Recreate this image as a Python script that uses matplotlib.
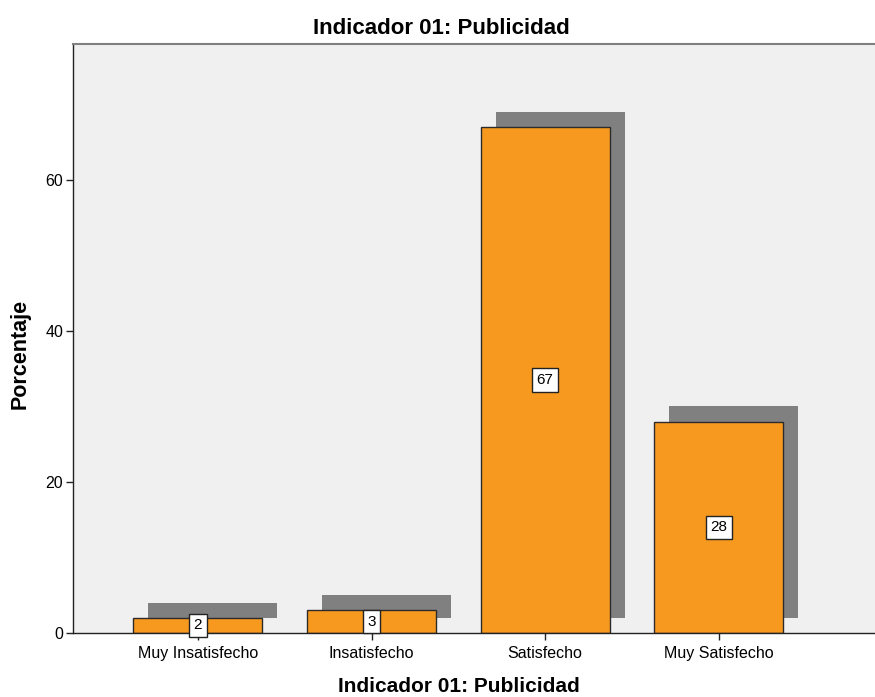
import matplotlib

matplotlib.use("Agg")
import matplotlib.pyplot as plt
import numpy as np

plt.rcParams["font.family"] = ["Liberation Sans", "DejaVu Sans"]

categories = ["Muy Insatisfecho", "Insatisfecho", "Satisfecho", "Muy Satisfecho"]
percentages = [2, 3, 67, 28]
y_ticks = [0, 20, 40, 60]

BAR_COLOR = "#F7991F"
SHADOW_COLOR = "#808080"
BG_COLOR = "#F0F0F0"

fig = plt.figure(figsize=(8.75, 6.97), dpi=100)
ax = fig.add_axes([0.0834, 0.0918, 0.9166, 0.8451])
ax.set_facecolor(BG_COLOR)

x = np.arange(len(categories))
width = 0.743
# drop shadow: shifted right and up
dx, dy = 0.086, 2.0
ax.bar(x + dx, percentages, width=width, bottom=dy, color=SHADOW_COLOR,
       linewidth=0, zorder=1)
ax.bar(x, percentages, width=width, color=BAR_COLOR, edgecolor="#2b2b2b",
       linewidth=1.0, zorder=2)

for xi, val in zip(x, percentages):
    ax.text(xi, val / 2, f"{val}", ha="center", va="center", fontsize=11,
            zorder=4, clip_on=False,
            bbox=dict(boxstyle="square,pad=0.3", facecolor="white",
                      edgecolor="#222222", linewidth=1.0))

ax.set_xlim(-0.72, 3.90)
ax.set_ylim(0, 78)
ax.set_xticks(x)
ax.set_xticklabels(categories, fontsize=11.5)
ax.set_yticks(y_ticks)
ax.set_yticklabels([str(t) for t in y_ticks], fontsize=11.5)
ax.tick_params(axis="both", direction="out", length=5, width=1, color="#222222")
ax.tick_params(axis="x", pad=4)
ax.tick_params(axis="y", pad=2)

for side in ["left", "bottom"]:
    ax.spines[side].set_color("#222222")
    ax.spines[side].set_linewidth(1.0)
ax.spines["top"].set_color("#808080")
ax.spines["top"].set_linewidth(1.5)
ax.spines["right"].set_visible(False)

fig.text(441 / 875, 1 - 28 / 697, "Indicador 01: Publicidad", ha="center",
         va="center", fontsize=16, fontweight="bold")
fig.text(459 / 875, 1 - 687 / 697, "Indicador 01: Publicidad", ha="center",
         va="center", fontsize=15, fontweight="bold")
fig.text(20 / 875, 1 - 354 / 697, "Porcentaje", ha="center", va="center",
         rotation=90, fontsize=15.5, fontweight="bold")

fig.savefig("out.png", dpi=100)
plt.close(fig)
